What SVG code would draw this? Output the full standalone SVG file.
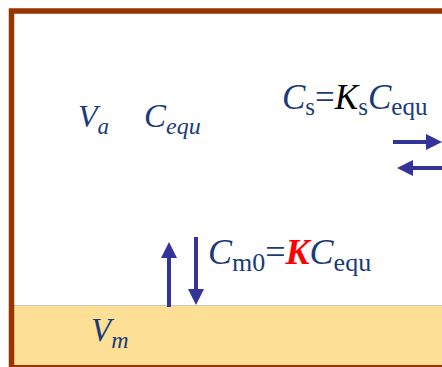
<svg xmlns="http://www.w3.org/2000/svg" width="442" height="367" viewBox="0 0 442 367">
<defs>
<marker id="ah" markerWidth="4" markerHeight="4" refX="0.5" refY="2" orient="auto" markerUnits="strokeWidth" viewBox="0 0 4 4">
<path d="M0,0 L4,2 L0,4 Z" fill="#333399"/>
</marker>
</defs>
<rect x="0" y="0" width="442" height="367" fill="#fff"/>
<g id="membrane">
<rect x="14" y="305" width="428" height="60" fill="#FDE095"/>
<line x1="14" y1="305.5" x2="442" y2="305.5" stroke="#C8C8C8" stroke-width="1"/>
</g>
<g id="frame">
<path d="M11.5,367 V11 H442" fill="none" stroke="#993300" stroke-width="5.5"/>
<line x1="9" y1="366" x2="442" y2="366" stroke="#993300" stroke-width="2"/>
</g>
<g id="connectors" stroke="#333399" stroke-width="4" fill="none">
<line x1="393" y1="142" x2="428" y2="142" marker-end="url(#ah)"/>
<line x1="442" y1="168" x2="411" y2="168" marker-end="url(#ah)"/>
<line x1="169" y1="307" x2="169" y2="256" marker-end="url(#ah)"/>
<line x1="196" y1="237" x2="196" y2="291" marker-end="url(#ah)"/>
</g>
<g id="labels" font-family="Liberation Serif" fill="#1B3A7A">
<g id="label-Va"><text x="78" y="127" font-size="32"><tspan font-style="italic">V</tspan><tspan font-style="italic" font-size="23" dy="7">a</tspan></text></g>
<g id="label-Cequ"><text x="144" y="127" font-size="33"><tspan font-style="italic">C</tspan><tspan font-style="italic" font-size="24" dy="7">equ</tspan></text></g>
<g id="label-Cs"><text x="282" y="109" font-size="35"><tspan font-style="italic">C</tspan><tspan font-size="25" dy="6">s</tspan><tspan dy="-6">=</tspan><tspan font-style="italic" fill="#000">K</tspan><tspan font-size="25" dy="6">s</tspan><tspan font-style="italic" dy="-6">C</tspan><tspan font-size="25" dy="6">equ</tspan></text></g>
<g id="label-Cm0"><text x="208" y="264" font-size="36"><tspan font-style="italic">C</tspan><tspan font-size="26" dy="7">m0</tspan><tspan dy="-7">=</tspan><tspan font-style="italic" font-weight="bold" fill="#FF0000">K</tspan><tspan font-style="italic">C</tspan><tspan font-size="26" dy="7">equ</tspan></text></g>
<g id="label-Vm"><text x="91" y="341" font-size="33"><tspan font-style="italic">V</tspan><tspan font-style="italic" font-size="24" dy="7">m</tspan></text></g>
</g>
</svg>
